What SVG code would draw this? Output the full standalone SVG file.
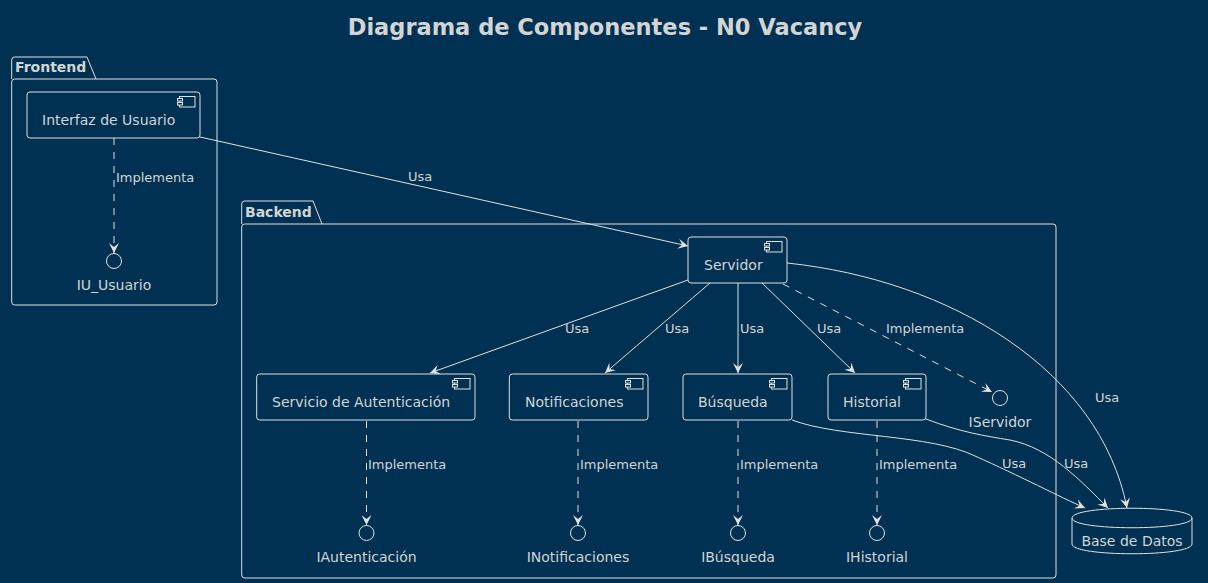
<svg xmlns="http://www.w3.org/2000/svg" width="1208" height="583" viewBox="0 0 1208 583">
<style>
  text { font-family: "DejaVu Sans", "Liberation Sans", sans-serif; fill: #D4D4D4; }
  .title { font-size: 22.5px; font-weight: bold; }
  .pkg { font-size: 14px; font-weight: bold; }
  .name { font-size: 14px; }
  .lbl { font-size: 13px; }
  .box { fill: none; stroke: #E0E0E0; stroke-width: 1; }
  .line { fill: none; stroke: #E0E0E0; stroke-width: 1; }
  .dash { fill: none; stroke: #E0E0E0; stroke-width: 1; stroke-dasharray: 7 7; }
  .mid { text-anchor: middle; }
</style>
<defs>
  <marker id="arr" viewBox="0 0 10 10" markerWidth="10" markerHeight="10" refX="10" refY="5" orient="auto" markerUnits="userSpaceOnUse">
    <path d="M0,0 L10,5 L0,10 L4,5 Z" fill="#E0E0E0" stroke="none"/>
  </marker>
  <g id="icon" fill="none" stroke="#E0E0E0" stroke-width="1">
    <rect x="-20.5" y="4.5" width="15.5" height="10.5"/>
    <rect x="-22.5" y="6.5" width="5" height="2.5" fill="#003152"/>
    <rect x="-22.5" y="10.5" width="5" height="2.5" fill="#003152"/>
  </g>
</defs>
<rect x="0" y="0" width="1208" height="583" fill="#003152"/>
<text class="title mid" x="605" y="35">Diagrama de Componentes - N0 Vacancy</text>

<g id="pkg-frontend">
  <path class="box" d="M11.7,79 L11.7,60 Q11.7,57 14.7,57 L87,57 L96,79"/>
  <rect class="box" x="11.7" y="79" width="205.3" height="226" rx="3"/>
  <text class="pkg" x="15" y="72">Frontend</text>
</g>
<g id="pkg-backend">
  <path class="box" d="M241.7,224 L241.7,204 Q241.7,201 244.7,201 L313,201 L322,224"/>
  <rect class="box" x="241.7" y="224" width="814.3" height="354" rx="3"/>
  <text class="pkg" x="245" y="217">Backend</text>
</g>

<g id="connectors">
  <line class="line" x1="200" y1="137" x2="688" y2="246" marker-end="url(#arr)"/>
  <text class="lbl" x="408" y="181">Usa</text>
  <line class="dash" x1="114" y1="138" x2="114" y2="253" marker-end="url(#arr)"/>
  <text class="lbl" x="116" y="182">Implementa</text>

  <line class="line" x1="688" y1="280" x2="430" y2="373" marker-end="url(#arr)"/>
  <text class="lbl" x="565" y="333">Usa</text>
  <line class="line" x1="710" y1="283" x2="605" y2="373" marker-end="url(#arr)"/>
  <text class="lbl" x="665" y="333">Usa</text>
  <line class="line" x1="738" y1="283" x2="738" y2="373" marker-end="url(#arr)"/>
  <text class="lbl" x="740" y="333">Usa</text>
  <line class="line" x1="762" y1="283" x2="855" y2="373" marker-end="url(#arr)"/>
  <text class="lbl" x="817" y="333">Usa</text>
  <line class="dash" x1="783" y1="284" x2="992" y2="392" marker-end="url(#arr)"/>
  <text class="lbl" x="886" y="333">Implementa</text>

  <path class="line" d="M787,263 C950,280 1100,370 1127,508" marker-end="url(#arr)"/>
  <text class="lbl" x="1095" y="402">Usa</text>
  <path class="line" d="M792,420 C840,438 930,434 975,456 C1020,476 1060,497 1085,508" marker-end="url(#arr)"/>
  <text class="lbl" x="1002" y="468">Usa</text>
  <path class="line" d="M926,419 C960,432 985,436 1010,440 C1050,448 1080,480 1108,508" marker-end="url(#arr)"/>
  <text class="lbl" x="1064" y="468">Usa</text>

  <line class="dash" x1="366.5" y1="421" x2="366.5" y2="525" marker-end="url(#arr)"/>
  <text class="lbl" x="368" y="469">Implementa</text>
  <line class="dash" x1="578" y1="421" x2="578" y2="525" marker-end="url(#arr)"/>
  <text class="lbl" x="580" y="469">Implementa</text>
  <line class="dash" x1="738" y1="421" x2="738" y2="525" marker-end="url(#arr)"/>
  <text class="lbl" x="740" y="469">Implementa</text>
  <line class="dash" x1="877" y1="421" x2="877" y2="525" marker-end="url(#arr)"/>
  <text class="lbl" x="879" y="469">Implementa</text>
</g>

<g id="interfaz-usuario">
  <rect class="box" x="27" y="92" width="173" height="46" rx="3"/>
  <use href="#icon" x="200" y="92"/>
  <text class="name" x="42" y="125">Interfaz de Usuario</text>
</g>
<g id="iu-usuario">
  <circle class="box" cx="114" cy="261" r="7.5"/>
  <text class="name mid" x="114" y="290">IU_Usuario</text>
</g>

<g id="servidor">
  <rect class="box" x="688" y="237" width="99" height="46" rx="3"/>
  <use href="#icon" x="787" y="237"/>
  <text class="name" x="704" y="270">Servidor</text>
</g>
<g id="servicio-autenticacion">
  <rect class="box" x="256.7" y="374" width="218.3" height="46" rx="3"/>
  <use href="#icon" x="475" y="374"/>
  <text class="name" x="272" y="407">Servicio de Autenticación</text>
</g>
<g id="notificaciones">
  <rect class="box" x="509.3" y="374" width="138.7" height="46" rx="3"/>
  <use href="#icon" x="648" y="374"/>
  <text class="name" x="525" y="407">Notificaciones</text>
</g>
<g id="busqueda">
  <rect class="box" x="683" y="374" width="109" height="46" rx="3"/>
  <use href="#icon" x="792" y="374"/>
  <text class="name" x="698" y="407">Búsqueda</text>
</g>
<g id="historial">
  <rect class="box" x="828" y="374" width="98" height="46" rx="3"/>
  <use href="#icon" x="926" y="374"/>
  <text class="name" x="843" y="407">Historial</text>
</g>

<g id="iservidor">
  <circle class="box" cx="1000" cy="398" r="7.5"/>
  <text class="name mid" x="1000" y="427">IServidor</text>
</g>
<g id="iautenticacion">
  <circle class="box" cx="366.5" cy="533" r="7.5"/>
  <text class="name mid" x="366.5" y="562">IAutenticación</text>
</g>
<g id="inotificaciones">
  <circle class="box" cx="578" cy="533" r="7.5"/>
  <text class="name mid" x="578" y="562">INotificaciones</text>
</g>
<g id="ibusqueda">
  <circle class="box" cx="738" cy="533" r="7.5"/>
  <text class="name mid" x="738" y="562">IBúsqueda</text>
</g>
<g id="ihistorial">
  <circle class="box" cx="877" cy="533" r="7.5"/>
  <text class="name mid" x="877" y="562">IHistorial</text>
</g>

<g id="base-de-datos">
  <path class="box" d="M1072,518 C1072,505 1192,505 1192,518 L1192,544 C1192,557 1072,557 1072,544 Z"/>
  <path class="box" d="M1072,518 C1072,531 1192,531 1192,518"/>
  <text class="name mid" x="1132" y="546">Base de Datos</text>
</g>
</svg>
